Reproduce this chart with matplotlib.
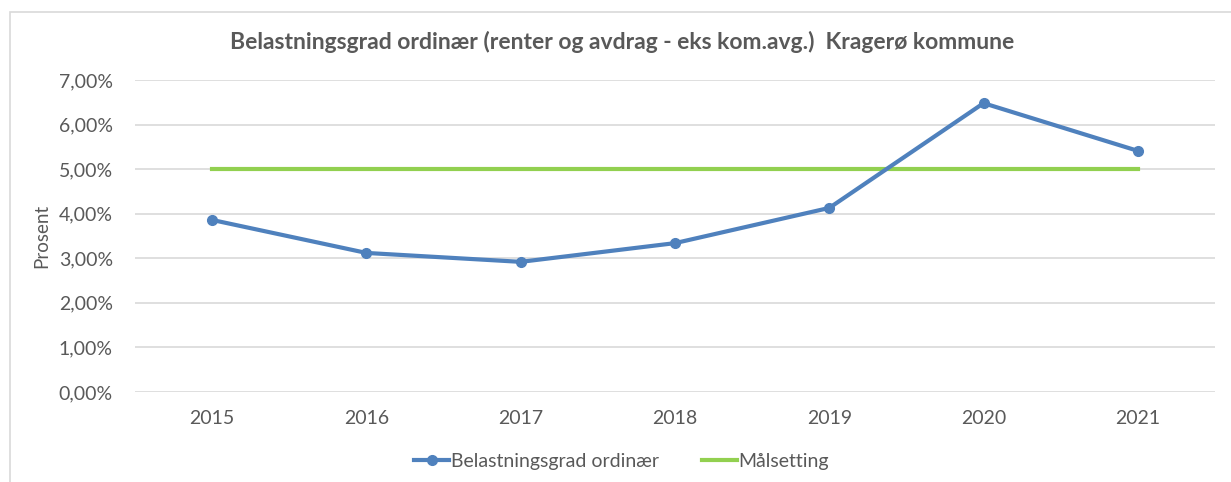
import matplotlib
matplotlib.use('Agg')
import matplotlib.pyplot as plt
import matplotlib.patches as pat
from matplotlib.ticker import FuncFormatter

years = ['2015', '2016', '2017', '2018', '2019', '2020', '2021']
belastning = [3.86, 3.12, 2.92, 3.34, 4.13, 6.48, 5.41]
maal = [5.0, 5.0, 5.0, 5.0, 5.0, 5.0, 5.0]
yticks = [0, 1, 2, 3, 4, 5, 6, 7]

plt.rcParams['font.family'] = ['Lato', 'DejaVu Sans']
txt = '#595959'

fig = plt.figure(figsize=(12.31, 4.82), dpi=100)
# chart border
fig.patches.append(pat.Rectangle((10 / 1231, -0.05), 1.1, 1 - 12 / 482 + 0.05,
                                 transform=fig.transFigure, fill=False,
                                 ec='#d9d9d9', lw=1.2))

ax = fig.add_axes([135 / 1231, 1 - 392 / 482, (1215 - 135) / 1231, (392 - 80) / 482])
x = list(range(len(years)))
ax.plot(x, belastning, color='#4F81BD', lw=3, marker='o', ms=7,
        label='Belastningsgrad ordinær', zorder=3)
ax.plot(x, maal, color='#92D050', lw=3, label='Målsetting', zorder=2)

ax.set_xlim(-0.5, len(years) - 0.5)
ax.set_ylim(0, 7)
ax.set_yticks(yticks)
ax.yaxis.set_major_formatter(FuncFormatter(lambda v, p: f'{v:.2f}%'.replace('.', ',')))
ax.set_xticks(x)
ax.set_xticklabels(years)
ax.grid(axis='y', color='#d9d9d9', lw=1.2)
ax.set_axisbelow(True)
for s in ax.spines.values():
    s.set_visible(False)
ax.tick_params(length=0, colors=txt, labelsize=14)
ax.tick_params(axis='y', pad=16)
ax.tick_params(axis='x', pad=13)
ax.set_ylabel('Prosent', color=txt, fontsize=13.5, labelpad=6)

fig.text(0.505, 1 - 42 / 482, 'Belastningsgrad ordinær (renter og avdrag - eks kom.avg.)  Kragerø kommune',
         ha='center', va='center', fontsize=16.5, fontweight='bold', color=txt)

fig.legend(loc='center', bbox_to_anchor=(0.505, 1 - 461 / 482), ncol=2, frameon=False,
           fontsize=14, labelcolor=txt, handlelength=1.8, handletextpad=0.1,
           columnspacing=2.2)

fig.savefig('out.png', dpi=100)
